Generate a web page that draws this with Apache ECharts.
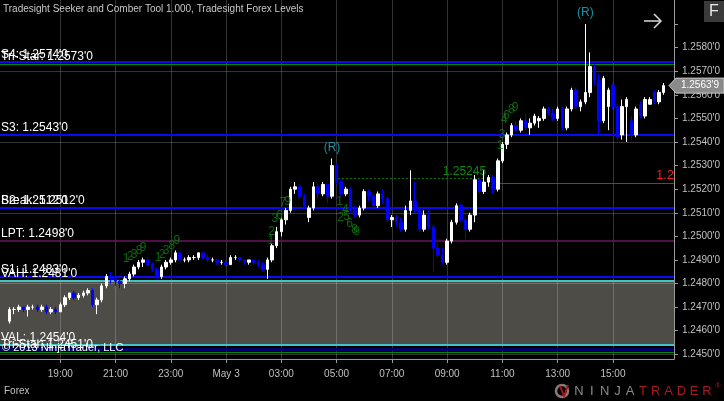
<!DOCTYPE html>
<html><head><meta charset="utf-8">
<script src="https://cdn.jsdelivr.net/npm/echarts@6/dist/echarts.min.js"></script>
<style>html,body{margin:0;padding:0;background:#000;}#c{width:724px;height:401px;}</style>
</head><body><div id="c"></div>
<script>
const FONT = "'Liberation Sans', Arial, sans-serif";
const titleText = "Tradesight Seeker and Comber Tool 1.000, Tradesight Forex Levels";
// time in hours since May 2 00:00; bars are 10-minute bars from 17:10
const firstBarHour = 17 + 10/60;
const barStepHours = 10/60;
// [open, close, low, high]
const bars = [
[1.2464,1.2469,1.2463,1.2470],[1.2469,1.2469,1.2467,1.2470],[1.2469,1.2470,1.2468,1.2471],[1.2470,1.2469,1.2468,1.2470],
[1.2469,1.2470,1.2466,1.2471],[1.2470,1.2470,1.2469,1.2471],[1.2470,1.2469,1.2468,1.2471],[1.2469,1.2470,1.2468,1.2471],
[1.2470,1.2468,1.2467,1.2471],[1.2468,1.2469,1.2467,1.2470],[1.2469,1.2468,1.2467,1.2470],[1.2468,1.2471,1.2468,1.2472],
[1.2471,1.2474,1.2470,1.2475],[1.2474,1.2476,1.2473,1.2476],[1.2476,1.2474,1.2473,1.2477],[1.2474,1.2475,1.2473,1.2476],
[1.2475,1.2476,1.2474,1.2477],[1.2476,1.2477,1.2475,1.2478],[1.2477,1.2471,1.2470,1.2478],[1.2471,1.2473,1.2467,1.2474],
[1.2473,1.2479,1.2472,1.2480],[1.2479,1.2483,1.2478,1.2484],[1.2483,1.2482,1.2480,1.2485],[1.2482,1.2481,1.2479,1.2483],
[1.2481,1.2480,1.2478,1.2482],[1.2480,1.2482,1.2478,1.2483],[1.2482,1.2484,1.2481,1.2485],[1.2484,1.2487,1.2483,1.2488],
[1.2487,1.2489,1.2486,1.2490],[1.2489,1.2490,1.2487,1.2491],[1.2490,1.2488,1.2487,1.2491],[1.2488,1.2486,1.2485,1.2489],
[1.2486,1.2483,1.2482,1.2487],[1.2483,1.2487,1.2482,1.2488],[1.2487,1.2489,1.2486,1.2490],[1.2489,1.2490,1.2488,1.2491],
[1.2490,1.2493,1.2489,1.2494],[1.2493,1.2490,1.2489,1.2493],[1.2490,1.2490,1.2489,1.2491],[1.2490,1.2491,1.2489,1.2492],
[1.2491,1.2491,1.2490,1.2492],[1.2491,1.2493,1.2490,1.2493],[1.2493,1.2491,1.2490,1.2493],[1.2491,1.2490,1.2489,1.2492],
[1.2490,1.2490,1.2489,1.2491],[1.2490,1.2489,1.2488,1.2490],[1.2489,1.2489,1.2488,1.2490],[1.2489,1.2488,1.2487,1.2490],
[1.2488,1.2491,1.2488,1.2492],[1.2491,1.2491,1.2490,1.2492],[1.2491,1.2490,1.2489,1.2491],[1.2490,1.2489,1.2488,1.2490],
[1.2489,1.2490,1.2488,1.2490],[1.2490,1.2489,1.2488,1.2490],[1.2489,1.2488,1.2487,1.2490],[1.2488,1.2486,1.2485,1.2489],
[1.2486,1.2490,1.2482,1.2491],[1.2490,1.2496,1.2489,1.2497],[1.2496,1.2502,1.2495,1.2504],[1.2502,1.2507,1.2500,1.2508],
[1.2507,1.2511,1.2505,1.2512],[1.2511,1.2520,1.2510,1.2521],[1.2520,1.2521,1.2518,1.2523],[1.2521,1.2517,1.2516,1.2522],
[1.2517,1.2513,1.2512,1.2518],[1.2508,1.2512,1.2506,1.2513],[1.2512,1.2521,1.2511,1.2523],[1.2521,1.2518,1.2516,1.2522],
[1.2518,1.2522,1.2517,1.2523],[1.2522,1.2517,1.2514,1.2522],[1.2517,1.2530,1.2516,1.2533],[1.2530,1.2523,1.2522,1.2531],
[1.2523,1.2518,1.2517,1.2524],[1.2518,1.2520,1.2517,1.2521],[1.2520,1.2511,1.2510,1.2521],[1.2511,1.2509,1.2508,1.2513],
[1.2509,1.2512,1.2508,1.2513],[1.2512,1.2519,1.2511,1.2520],[1.2519,1.2517,1.2515,1.2520],[1.2517,1.2513,1.2512,1.2518],
[1.2513,1.2518,1.2512,1.2519],[1.2518,1.2516,1.2514,1.2520],[1.2516,1.2507,1.2506,1.2517],[1.2507,1.2508,1.2504,1.2509],
[1.2508,1.2506,1.2504,1.2509],[1.2506,1.2503,1.2502,1.2508],[1.2503,1.2511,1.2502,1.2513],[1.2511,1.2515,1.2509,1.2528],
[1.2515,1.2511,1.2510,1.2523],[1.2511,1.2503,1.2502,1.2512],[1.2503,1.2509,1.2502,1.2511],[1.2509,1.2504,1.2503,1.2511],
[1.2504,1.2495,1.2485,1.2505],[1.2495,1.2492,1.2491,1.2499],[1.2492,1.2489,1.2488,1.2495],[1.2489,1.2498,1.2488,1.2499],
[1.2498,1.2506,1.2497,1.2507],[1.2506,1.2513,1.2505,1.2514],[1.2513,1.2507,1.2506,1.2514],[1.2507,1.2503,1.2499,1.2508],
[1.2503,1.2509,1.2502,1.2510],[1.2509,1.2524,1.2506,1.2526],[1.2524,1.2519,1.2518,1.2525],[1.2519,1.2523,1.2518,1.2528],
[1.2523,1.2525,1.2521,1.2526],[1.2525,1.2520,1.2518,1.2526],[1.2520,1.2532,1.2519,1.2533],[1.2532,1.2539,1.2531,1.2540],
[1.2539,1.2543,1.2537,1.2544],[1.2543,1.2547,1.2542,1.2548],[1.2547,1.2545,1.2544,1.2549],[1.2545,1.2549,1.2544,1.2550],
[1.2549,1.2546,1.2545,1.2552],[1.2546,1.2548,1.2543,1.2550],[1.2548,1.2551,1.2547,1.2552],[1.2549,1.2550,1.2546,1.2551],
[1.2550,1.2554,1.2549,1.2555],[1.2554,1.2552,1.2551,1.2555],[1.2552,1.2550,1.2549,1.2554],[1.2550,1.2554,1.2549,1.2555],
[1.2554,1.2546,1.2545,1.2555],[1.2546,1.2554,1.2545,1.2555],[1.2554,1.2562,1.2553,1.2563],[1.2562,1.2555,1.2554,1.2563],
[1.2555,1.2557,1.2553,1.2558],[1.2557,1.2561,1.2556,1.2590],[1.2561,1.2572,1.2559,1.2578],[1.2572,1.2566,1.2564,1.2573],
[1.2566,1.2549,1.2543,1.2569],[1.2549,1.2567,1.2548,1.2568],[1.2555,1.2562,1.2545,1.2563],[1.2564,1.2555,1.2554,1.2565],
[1.2555,1.2542,1.2541,1.2556],[1.2543,1.2555,1.2541,1.2558],[1.2555,1.2558,1.2540,1.2559],[1.2549,1.2543,1.2541,1.2551],
[1.2543,1.2554,1.2542,1.2555],[1.2556,1.2551,1.2550,1.2557],[1.2551,1.2558,1.2550,1.2559],[1.2556,1.2558,1.2556,1.2559],
[1.2561,1.2557,1.2556,1.2562],[1.2557,1.2561,1.2556,1.2562],[1.2561,1.25639,1.2560,1.2565]
];
const lastPriceText = "1.2563'9";
const xTickHours = [19,21,23,25,27,29,31,33,35,37,39];
const yTickValues = [1.245,1.246,1.247,1.248,1.249,1.250,1.251,1.252,1.253,1.254,1.255,1.256,1.257,1.258,1.259];
const yLabelValues = [1.245,1.246,1.247,1.248,1.249,1.250,1.251,1.252,1.253,1.254,1.255,1.256,1.257,1.258];
const yGridValues = [1.245,1.248,1.251,1.254,1.257];
// horizontal levels: [value, label, colour, width]
const levels = [
  [1.2574, "S4: 1.2574'0", '#0a0af0', 2],
  [1.2573, "Tri-Star: 1.2573'0", '#008a00', 1],
  [1.2543, "S3: 1.2543'0", '#0a0af0', 2],
  [1.2512, "S2: 1.2512'0", '#0a0af0', 2],
  [1.2512, "Break: 1.2512'0", '#0a0af0', 2],
  [1.2498, "LPT: 1.2498'0", '#6a1660', 1.5],
  [1.2483, "S1: 1.2483'0", '#0a0af0', 2],
  [1.2481, "VAH: 1.2481'0", '#3ec4c4', 2],
  [1.2454, "VAL: 1.2454'0", '#3ec4c4', 2],
  [1.24522, "", '#00006a', 3],
  [1.2451, "Tri-Star: 1.2451'0", '#008a00', 1]
];
const valueArea = [1.2481, 1.2454];
const signalLine = {from: 29.04, to: 34.41, value: 1.25245, text: '1.25245'};
const entryLine = {from: 34.88, value: 1.25226, text: '1.2'};
const reversals = [[28.833, 1.2533], [38.0, 1.2590]];
const tdDigits = [
  [21.38,1.24904,'1'],[21.53,1.24913,'2'],[21.67,1.24921,'3'],[21.85,1.24938,'8'],[22.0,1.24951,'9'],
  [22.54,1.24908,'1'],[22.68,1.24921,'2'],[22.83,1.24938,'3'],[23.04,1.24959,'8'],[23.22,1.24980,'9'],
  [26.62,1.24980,'1'],[26.65,1.25019,'2'],[26.76,1.25074,'3'],[26.94,1.25087,'6'],[27.05,1.25142,'7'],[27.23,1.25146,'9'],
  [29.11,1.25147,'1'],[29.14,1.25078,'2'],[29.32,1.25112,'4'],[29.36,1.25084,'5'],[29.47,1.25053,'6'],[29.65,1.25027,'8'],[29.72,1.25019,'9'],
  [34.92,1.25383,'1'],[34.99,1.25430,'3'],[35.06,1.25494,'4'],[35.14,1.25511,'6'],[35.32,1.25536,'8'],[35.46,1.25545,'9']
];
const xMin = 16.818, xMax = 41.21, yMin = 1.2448, yMax = 1.26002;

const chart = echarts.init(document.getElementById('c'), null, {renderer: 'canvas'});
const candleData = bars.map((b, i) => [firstBarHour + i * barStepHours, b[0], b[1], b[2], b[3]]);
const fmtHour = h => h === 25 ? 'May 3' : String(h % 24).padStart(2, '0') + ':00';
const hLine = (v, extra) => [Object.assign({coord: [xMin, v]}, extra || {}), {coord: [xMax, v]}];

const levelMarks = levels.map(l => hLine(l[0], {
  lineStyle: {color: l[2], width: l[3], type: 'solid'},
  label: {show: !!l[1], formatter: l[1]}
}));

const option = {
  backgroundColor: '#000000',
  animation: false,
  title: {text: titleText, left: 3, top: 4, padding: 0,
    textStyle: {color: '#c8c8c8', fontSize: 10, fontWeight: 'normal', fontFamily: FONT}},
  grid: {left: 0, top: 0, right: 50, bottom: 42, containLabel: false, outerBoundsMode: 'none'},
  xAxis: {
    type: 'value', min: xMin, max: xMax,
    axisLine: {show: true, lineStyle: {color: '#9a9a9a', width: 1}},
    axisTick: {show: true, customValues: xTickHours, length: 4, lineStyle: {color: '#9a9a9a'}},
    axisLabel: {customValues: xTickHours, formatter: fmtHour, color: '#c0c0c0', fontSize: 10, fontFamily: FONT, margin: 10},
    splitLine: {show: false}
  },
  yAxis: {
    type: 'value', position: 'right', min: yMin, max: yMax, scale: true,
    axisLine: {show: true, lineStyle: {color: '#9a9a9a', width: 1}},
    axisTick: {show: true, customValues: yTickValues, length: 4, lineStyle: {color: '#9a9a9a'}},
    axisLabel: {customValues: yLabelValues, formatter: v => v.toFixed(4) + "'0", color: '#c0c0c0', fontSize: 10, fontFamily: FONT, margin: 8},
    splitLine: {show: false}
  },
  series: [
    { // value area shading
      type: 'line', data: [], z: 1, silent: true,
      markArea: {silent: true, itemStyle: {color: '#4d4c47', opacity: 1},
        data: [[{coord: [xMin, valueArea[0]]}, {coord: [xMax, valueArea[1]]}]]}
    },
    { // grid lines
      type: 'line', data: [], z: 2, silent: true,
      markLine: {silent: true, symbol: 'none', animation: false,
        lineStyle: {color: 'rgba(255,255,255,0.2)', width: 1, type: 'solid'},
        label: {show: false},
        data: xTickHours.map(h => [{coord: [h, yMin]}, {coord: [h, yMax]}]).concat(yGridValues.map(v => hLine(v)))}
    },
    { // levels
      type: 'line', data: [], z: 3, silent: true,
      markLine: {silent: true, symbol: 'none', animation: false,
        label: {show: true, position: 'insideStartTop', color: '#ffffff', fontSize: 12, fontFamily: FONT, distance: [1, 1]},
        data: levelMarks.concat([
          [{coord: [signalLine.from, signalLine.value], lineStyle: {color: '#0a7a0a', width: 1, type: [2, 2]},
            label: {show: true, position: 'insideEndTop', formatter: signalLine.text, color: '#0a8a0a', fontSize: 12, distance: [0, 1]}},
           {coord: [signalLine.to, signalLine.value]}],
          [{coord: [entryLine.from, entryLine.value], lineStyle: {color: '#e01010', width: 1, type: 'solid'},
            label: {show: true, position: 'insideEndTop', formatter: entryLine.text, color: '#ff1a1a', fontSize: 13, distance: [0, 1]}},
           {coord: [xMax, entryLine.value]}]
        ])}
    },
    {
      type: 'candlestick', z: 5, data: candleData, encode: {x: 0, y: [1, 2, 3, 4]},
      barWidth: 3,
      itemStyle: {color: '#ffffff', color0: '#0000ff', borderColor: '#ffffff', borderColor0: '#0000ff', borderWidth: 1}
    },
    {
      type: 'scatter', z: 6, symbolSize: 0, data: tdDigits, silent: true,
      label: {show: true, position: 'inside', formatter: p => p.data[2], color: '#0b830b', fontSize: 12, fontFamily: FONT}
    },
    {
      type: 'scatter', z: 6, symbolSize: 0, data: reversals, silent: true,
      label: {show: true, position: 'top', distance: 5, formatter: '(R)', color: '#1ab4c8', fontSize: 12, fontFamily: FONT}
    }
  ]
};
chart.setOption(option);

const last = bars[bars.length - 1][1];
const py = chart.convertToPixel({gridIndex: 0}, [xMax, last])[1];
const logoLetters = 'NINJATRADER'.split('');
const graphics = [
  {type: 'text', left: 4, top: 386, style: {text: 'Forex', fill: '#c0c0c0', font: '10px ' + FONT}},
  {type: 'text', x: 2, y: 348, style: {text: '\u00a9 2013 NinjaTrader, LLC', fill: '#ffffff', font: '11px ' + FONT, verticalAlign: 'middle'}, z: 10},
  {type: 'polyline', shape: {points: [[644, 21], [661, 21]]}, style: {stroke: '#d8d8d8', lineWidth: 1.5}, z: 10},
  {type: 'polyline', shape: {points: [[654, 14], [661, 21], [654, 28]]}, style: {stroke: '#d8d8d8', lineWidth: 1.5, fill: null}, z: 10},
  {type: 'rect', shape: {x: 704, y: 1, width: 20, height: 21}, style: {fill: '#3a3a3a'}, z: 10},
  {type: 'text', x: 714, y: 12, style: {text: 'F', fill: '#e8e8e8', font: '16px ' + FONT, align: 'center', verticalAlign: 'middle'}, z: 11},
  {type: 'polygon', shape: {points: [[669, py], [676, py - 7.5], [724, py - 7.5], [724, py + 7.5], [676, py + 7.5]]},
    style: {fill: '#8a8a8a', stroke: '#c8c8c8', lineWidth: 1}, z: 12},
  {type: 'text', x: 700, y: py, style: {text: lastPriceText, fill: '#ffffff', font: '10px ' + FONT, align: 'center', verticalAlign: 'middle'}, z: 13},
  {type: 'circle', shape: {cx: 562, cy: 391, r: 6}, style: {fill: null, stroke: '#8a7a74', lineWidth: 2.5}, z: 10},
  {type: 'polyline', shape: {points: [[560, 386], [564, 396], [568, 385]]}, style: {stroke: '#a01818', lineWidth: 2, fill: null}, z: 11}
];
logoLetters.forEach((ch, i) => {
  graphics.push({type: 'text', x: 579 + i * 12.8, y: 391, z: 10,
    style: {text: ch, fill: i < 5 ? '#8a8a8a' : '#a81c1c', font: '13px ' + FONT, align: 'center', verticalAlign: 'middle'}});
});
graphics.push({type: 'text', x: 718, y: 386, z: 10, style: {text: '\u00ae', fill: '#a81c1c', font: '7px ' + FONT, align: 'center', verticalAlign: 'middle'}});
chart.setOption({graphic: graphics});
</script>
</body></html>
